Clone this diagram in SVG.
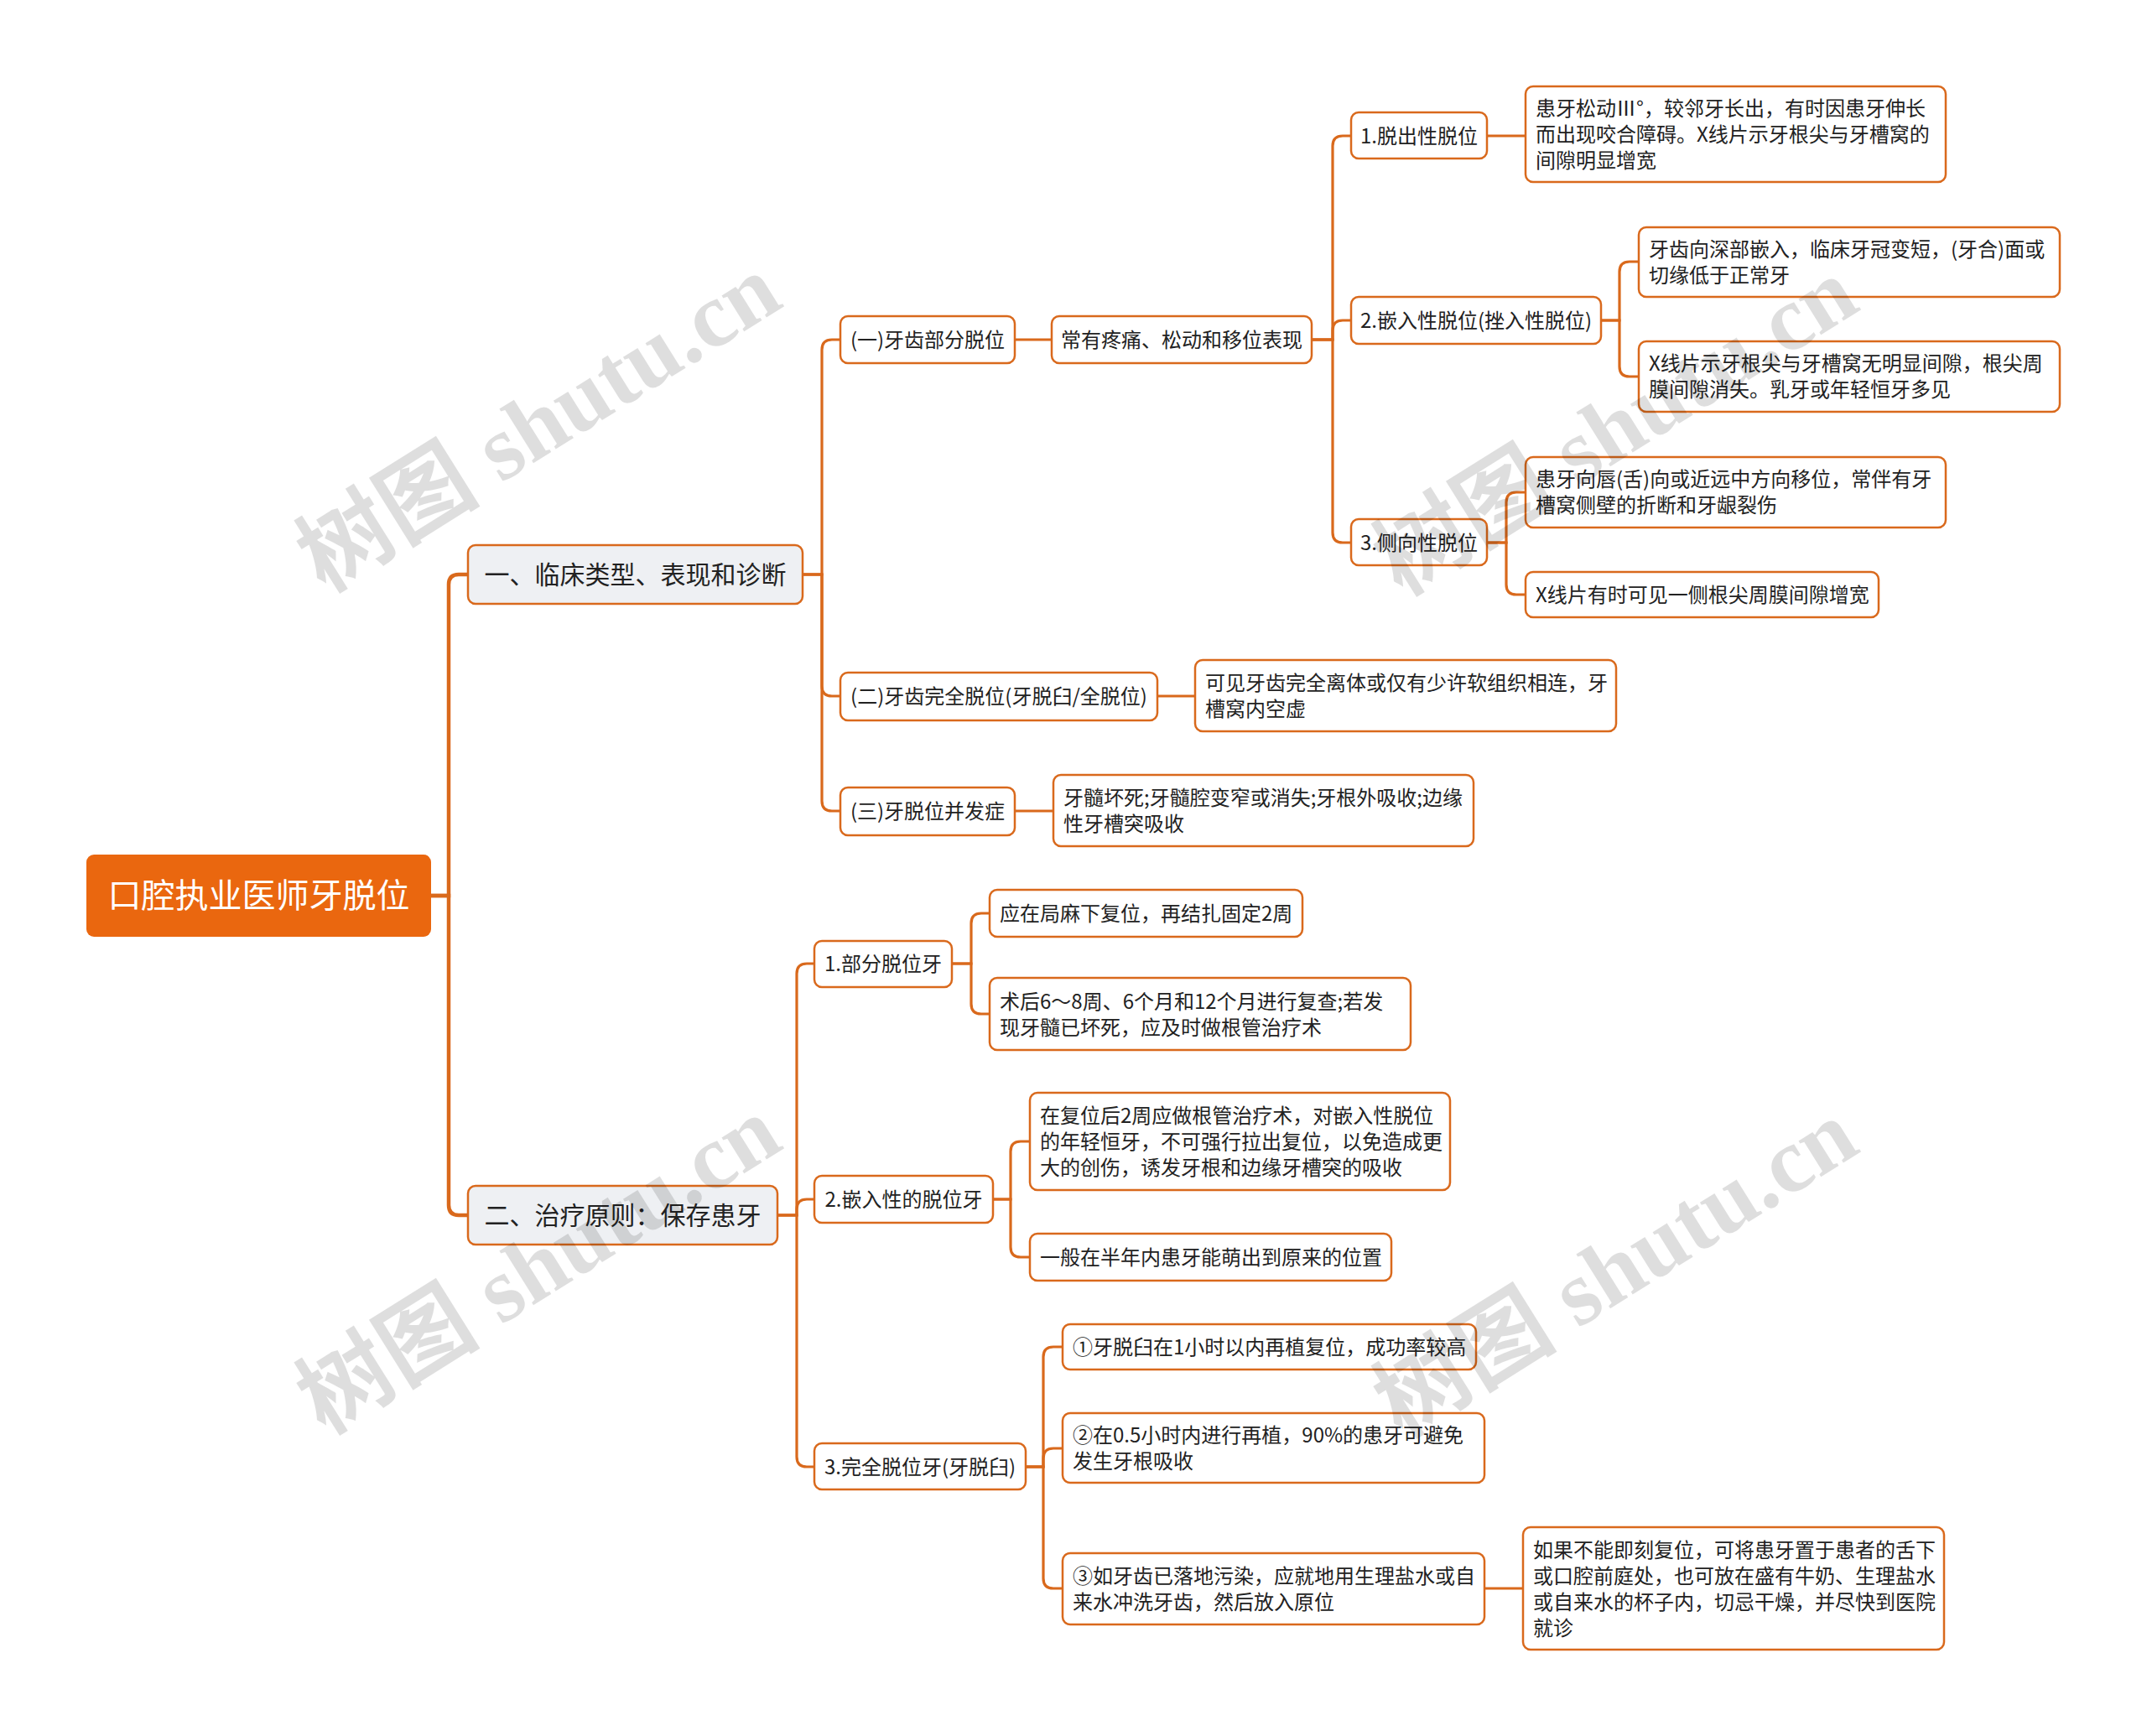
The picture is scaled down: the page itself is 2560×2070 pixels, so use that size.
<svg xmlns="http://www.w3.org/2000/svg" width="2560" height="2070" viewBox="0 0 2560 2070">
<style>
text{font-family:"Noto Sans CJK SC","Liberation Sans",sans-serif;fill:#222}
.n rect{fill:#fff;stroke:#d9691c;stroke-width:2.5}
.l1 rect{fill:#eef0f3;stroke:#d9691c;stroke-width:2.5}
.t24{font-size:24px}
.t30{font-size:30px}
.c{text-anchor:middle}
.edges path{fill:none;stroke:#d9691c;stroke-width:3.2}
.edges path.thick{stroke-width:4.5}
.wm{font-family:"Liberation Serif","Noto Sans CJK SC",serif;font-weight:bold;font-size:110px;fill:#000;fill-opacity:0.13}
</style>
<rect width="2560" height="2070" fill="#fff"/>
<g class="edges" id="connectors">
<path class="thick" d="M514,1068 H535 V697 Q535,685 547,685 H558"/>
<path class="thick" d="M514,1068 H535 V1437 Q535,1449 547,1449 H558"/>
<path d="M957,685 H980 V417 Q980,405 992,405 H1002"/>
<path d="M957,685 H980 V818 Q980,830 992,830 H1002"/>
<path d="M957,685 H980 V955 Q980,967 992,967 H1002"/>
<path d="M1210,405 H1254"/>
<path d="M1564,405 H1589 V174 Q1589,162 1601,162 H1611"/>
<path d="M1564,405 H1589 V394 Q1589,382 1601,382 H1611"/>
<path d="M1564,405 H1589 V635 Q1589,647 1601,647 H1611"/>
<path d="M1773,162 H1819"/>
<path d="M1909,382 H1931 V324 Q1931,312 1943,312 H1954"/>
<path d="M1909,382 H1931 V437 Q1931,449 1943,449 H1954"/>
<path d="M1773,647 H1796 V599 Q1796,587 1808,587 H1819"/>
<path d="M1773,647 H1796 V697 Q1796,709 1808,709 H1819"/>
<path d="M1380,830 H1425"/>
<path d="M1210,967 H1256"/>
<path d="M927,1449 H950 V1161 Q950,1149 962,1149 H971"/>
<path d="M927,1449 H950 V1442 Q950,1430 962,1430 H971"/>
<path d="M927,1449 H950 V1737 Q950,1749 962,1749 H971"/>
<path d="M1135,1149 H1158 V1101 Q1158,1089 1170,1089 H1180"/>
<path d="M1135,1149 H1158 V1197 Q1158,1209 1170,1209 H1180"/>
<path d="M1184,1430 H1205 V1373 Q1205,1361 1217,1361 H1228"/>
<path d="M1184,1430 H1205 V1487 Q1205,1499 1217,1499 H1228"/>
<path d="M1223,1749 H1244 V1618 Q1244,1606 1256,1606 H1267"/>
<path d="M1223,1749 H1244 V1739 Q1244,1727 1256,1727 H1267"/>
<path d="M1223,1749 H1244 V1882 Q1244,1894 1256,1894 H1267"/>
<path d="M1770,1894 H1816"/>
</g>
<g id="root">
<rect x="103" y="1019" width="411" height="98" rx="9" fill="#ea670f"/>
<text x="308.5" y="1082" class="c" style="font-size:40px;fill:#fff">口腔执业医师牙脱位</text>
</g>
<g id="l1a" class="l1">
<rect x="558" y="650" width="399" height="70" rx="9"/>
<text x="757.5" y="696" class="c t30">一、临床类型、表现和诊断</text>
</g>
<g id="l1b" class="l1">
<rect x="558" y="1414" width="369" height="70" rx="9"/>
<text x="742.5" y="1460" class="c t30">二、治疗原则：保存患牙</text>
</g>
<g id="a1" class="n">
<rect x="1002" y="377" width="208" height="56" rx="9"/>
<text x="1106" y="414" class="c t24">(一)牙齿部分脱位</text>
</g>
<g id="a1x" class="n">
<rect x="1254" y="377" width="310" height="56" rx="9"/>
<text x="1409" y="414" class="c t24">常有疼痛、松动和移位表现</text>
</g>
<g id="a11" class="n">
<rect x="1611" y="134" width="162" height="55" rx="9"/>
<text x="1692" y="171" class="c t24">1.脱出性脱位</text>
</g>
<g id="a11d" class="n">
<rect x="1819" y="103" width="501" height="114" rx="9"/>
<text class="t24"><tspan x="1831" y="138">患牙松动Ⅲ°，较邻牙长出，有时因患牙伸长</tspan><tspan x="1831" y="169">而出现咬合障碍。X线片示牙根尖与牙槽窝的</tspan><tspan x="1831" y="200">间隙明显增宽</tspan></text>
</g>
<g id="a12" class="n">
<rect x="1611" y="354" width="298" height="56" rx="9"/>
<text x="1760" y="391" class="c t24">2.嵌入性脱位(挫入性脱位)</text>
</g>
<g id="a12a" class="n">
<rect x="1954" y="271" width="502" height="83" rx="9"/>
<text class="t24"><tspan x="1966" y="306">牙齿向深部嵌入，临床牙冠变短，(牙合)面或</tspan><tspan x="1966" y="337">切缘低于正常牙</tspan></text>
</g>
<g id="a12b" class="n">
<rect x="1954" y="407" width="502" height="84" rx="9"/>
<text class="t24"><tspan x="1966" y="442">X线片示牙根尖与牙槽窝无明显间隙，根尖周</tspan><tspan x="1966" y="473">膜间隙消失。乳牙或年轻恒牙多见</tspan></text>
</g>
<g id="a13" class="n">
<rect x="1611" y="619" width="162" height="55" rx="9"/>
<text x="1692" y="656" class="c t24">3.侧向性脱位</text>
</g>
<g id="a13a" class="n">
<rect x="1819" y="545" width="501" height="84" rx="9"/>
<text class="t24"><tspan x="1831" y="580">患牙向唇(舌)向或近远中方向移位，常伴有牙</tspan><tspan x="1831" y="611">槽窝侧壁的折断和牙龈裂伤</tspan></text>
</g>
<g id="a13b" class="n">
<rect x="1819" y="682" width="421" height="54" rx="9"/>
<text x="1831" y="718" class="t24">X线片有时可见一侧根尖周膜间隙增宽</text>
</g>
<g id="a2" class="n">
<rect x="1002" y="802" width="378" height="57" rx="9"/>
<text x="1191" y="839" class="c t24">(二)牙齿完全脱位(牙脱臼/全脱位)</text>
</g>
<g id="a2d" class="n">
<rect x="1425" y="787" width="502" height="85" rx="9"/>
<text class="t24"><tspan x="1437" y="823">可见牙齿完全离体或仅有少许软组织相连，牙</tspan><tspan x="1437" y="854">槽窝内空虚</tspan></text>
</g>
<g id="a3" class="n">
<rect x="1002" y="939" width="208" height="57" rx="9"/>
<text x="1106" y="976" class="c t24">(三)牙脱位并发症</text>
</g>
<g id="a3d" class="n">
<rect x="1256" y="924" width="501" height="85" rx="9"/>
<text class="t24"><tspan x="1268" y="960">牙髓坏死;牙髓腔变窄或消失;牙根外吸收;边缘</tspan><tspan x="1268" y="991">性牙槽突吸收</tspan></text>
</g>
<g id="b1" class="n">
<rect x="971" y="1122" width="164" height="55" rx="9"/>
<text x="1053" y="1158" class="c t24">1.部分脱位牙</text>
</g>
<g id="b1a" class="n">
<rect x="1180" y="1061" width="373" height="56" rx="9"/>
<text x="1192" y="1098" class="t24">应在局麻下复位，再结扎固定2周</text>
</g>
<g id="b1b" class="n">
<rect x="1180" y="1166" width="502" height="86" rx="9"/>
<text class="t24"><tspan x="1192" y="1203">术后6～8周、6个月和12个月进行复查;若发</tspan><tspan x="1192" y="1234">现牙髓已坏死，应及时做根管治疗术</tspan></text>
</g>
<g id="b2" class="n">
<rect x="971" y="1402" width="213" height="56" rx="9"/>
<text x="1077.5" y="1439" class="c t24">2.嵌入性的脱位牙</text>
</g>
<g id="b2a" class="n">
<rect x="1228" y="1303" width="501" height="116" rx="9"/>
<text class="t24"><tspan x="1240" y="1339">在复位后2周应做根管治疗术，对嵌入性脱位</tspan><tspan x="1240" y="1370">的年轻恒牙，不可强行拉出复位，以免造成更</tspan><tspan x="1240" y="1401">大的创伤，诱发牙根和边缘牙槽突的吸收</tspan></text>
</g>
<g id="b2b" class="n">
<rect x="1228" y="1471" width="431" height="56" rx="9"/>
<text x="1240" y="1508" class="t24">一般在半年内患牙能萌出到原来的位置</text>
</g>
<g id="b3" class="n">
<rect x="971" y="1721" width="252" height="55" rx="9"/>
<text x="1097" y="1758" class="c t24">3.完全脱位牙(牙脱臼)</text>
</g>
<g id="b3a" class="n">
<rect x="1267" y="1579" width="493" height="54" rx="9"/>
<text x="1279" y="1615" class="t24">①牙脱臼在1小时以内再植复位，成功率较高</text>
</g>
<g id="b3b" class="n">
<rect x="1267" y="1685" width="503" height="83" rx="9"/>
<text class="t24"><tspan x="1279" y="1720">②在0.5小时内进行再植，90%的患牙可避免</tspan><tspan x="1279" y="1751">发生牙根吸收</tspan></text>
</g>
<g id="b3c" class="n">
<rect x="1267" y="1852" width="503" height="85" rx="9"/>
<text class="t24"><tspan x="1279" y="1888">③如牙齿已落地污染，应就地用生理盐水或自</tspan><tspan x="1279" y="1919">来水冲洗牙齿，然后放入原位</tspan></text>
</g>
<g id="b3c1" class="n">
<rect x="1816" y="1821" width="502" height="146" rx="9"/>
<text class="t24"><tspan x="1828" y="1857">如果不能即刻复位，可将患牙置于患者的舌下</tspan><tspan x="1828" y="1888">或口腔前庭处，也可放在盛有牛奶、生理盐水</tspan><tspan x="1828" y="1919">或自来水的杯子内，切忌干燥，并尽快到医院</tspan><tspan x="1828" y="1950">就诊</tspan></text>
</g>
<g id="watermarks">
<text class="wm" text-anchor="middle" transform="translate(662,536) rotate(-32)">树图 shutu.cn</text>
<text class="wm" text-anchor="middle" transform="translate(1946,540) rotate(-32)">树图 shutu.cn</text>
<text class="wm" text-anchor="middle" transform="translate(662,1540) rotate(-32)">树图 shutu.cn</text>
<text class="wm" text-anchor="middle" transform="translate(1946,1544) rotate(-32)">树图 shutu.cn</text>
</g>
</svg>
